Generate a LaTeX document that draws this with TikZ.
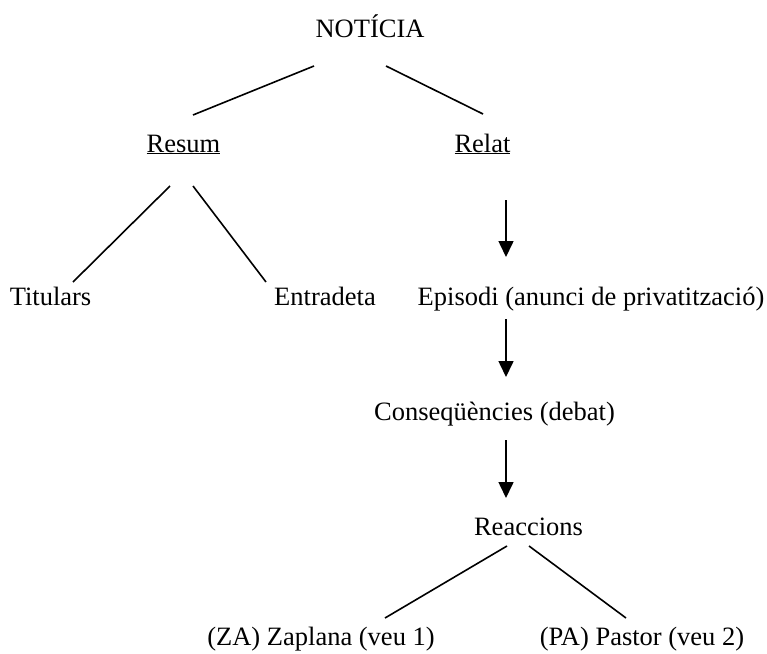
\documentclass[tikz,border=0pt]{standalone}
\usepackage{fontspec}
\setmainfont{Liberation Serif}
\usetikzlibrary{arrows.meta}
\begin{document}
\begin{tikzpicture}[x=1pt,y=-1pt,
  lbl/.style={anchor=base,inner sep=0pt,font=\fontsize{26.5pt}{32pt}\selectfont},
  branch/.style={line width=1.6pt},
  flow/.style={line width=1.6pt,-{Triangle[length=16pt,width=15pt]}}]
\useasboundingbox (0,0) rectangle (767,653);

% labels
\node[lbl] (noticia)   at (370,37)    {NOTÍCIA};
\node[lbl] (resum)     at (183.5,152) {\underline{Resum}};
\node[lbl] (relat)     at (482.5,152) {\underline{Relat}};
\node[lbl] (titulars)  at (50.5,305)  {Titulars};
\node[lbl] (entradeta) at (325,305)   {Entradeta};
\node[lbl] (episodi)   at (591,305)   {Episodi (anunci de privatització)};
\node[lbl] (conseq)    at (494.5,420) {Conseqüències (debat)};
\node[lbl] (reaccions) at (528.5,535) {Reaccions};
\node[lbl] (zaplana)   at (321,645)   {(ZA) Zaplana (veu 1)};
\node[lbl] (pastor)    at (642,645)   {(PA) Pastor (veu 2)};

% end points of the branches
\coordinate (nl) at (314,66);  \coordinate (rsa) at (193,115);
\coordinate (nr) at (386,66);  \coordinate (rla) at (483,114);
\coordinate (rsl) at (170,186); \coordinate (tia) at (73,282);
\coordinate (rsr) at (193,186); \coordinate (ena) at (266,282);
\coordinate (rlb) at (506,200); \coordinate (epa) at (506,257);
\coordinate (epb) at (506,319); \coordinate (coa) at (506,377);
\coordinate (cob) at (506,440); \coordinate (rea) at (506,498);
\coordinate (rel) at (507,546); \coordinate (zaa) at (385,618);
\coordinate (rer) at (529,546); \coordinate (paa) at (626,618);

% tree branches
\draw[branch] (nl) -- (rsa);
\draw[branch] (nr) -- (rla);
\draw[branch] (rsl) -- (tia);
\draw[branch] (rsr) -- (ena);
\draw[branch] (rel) -- (zaa);
\draw[branch] (rer) -- (paa);

% sequence arrows
\draw[flow] (rlb) -- (epa);
\draw[flow] (epb) -- (coa);
\draw[flow] (cob) -- (rea);
\end{tikzpicture}
\end{document}
